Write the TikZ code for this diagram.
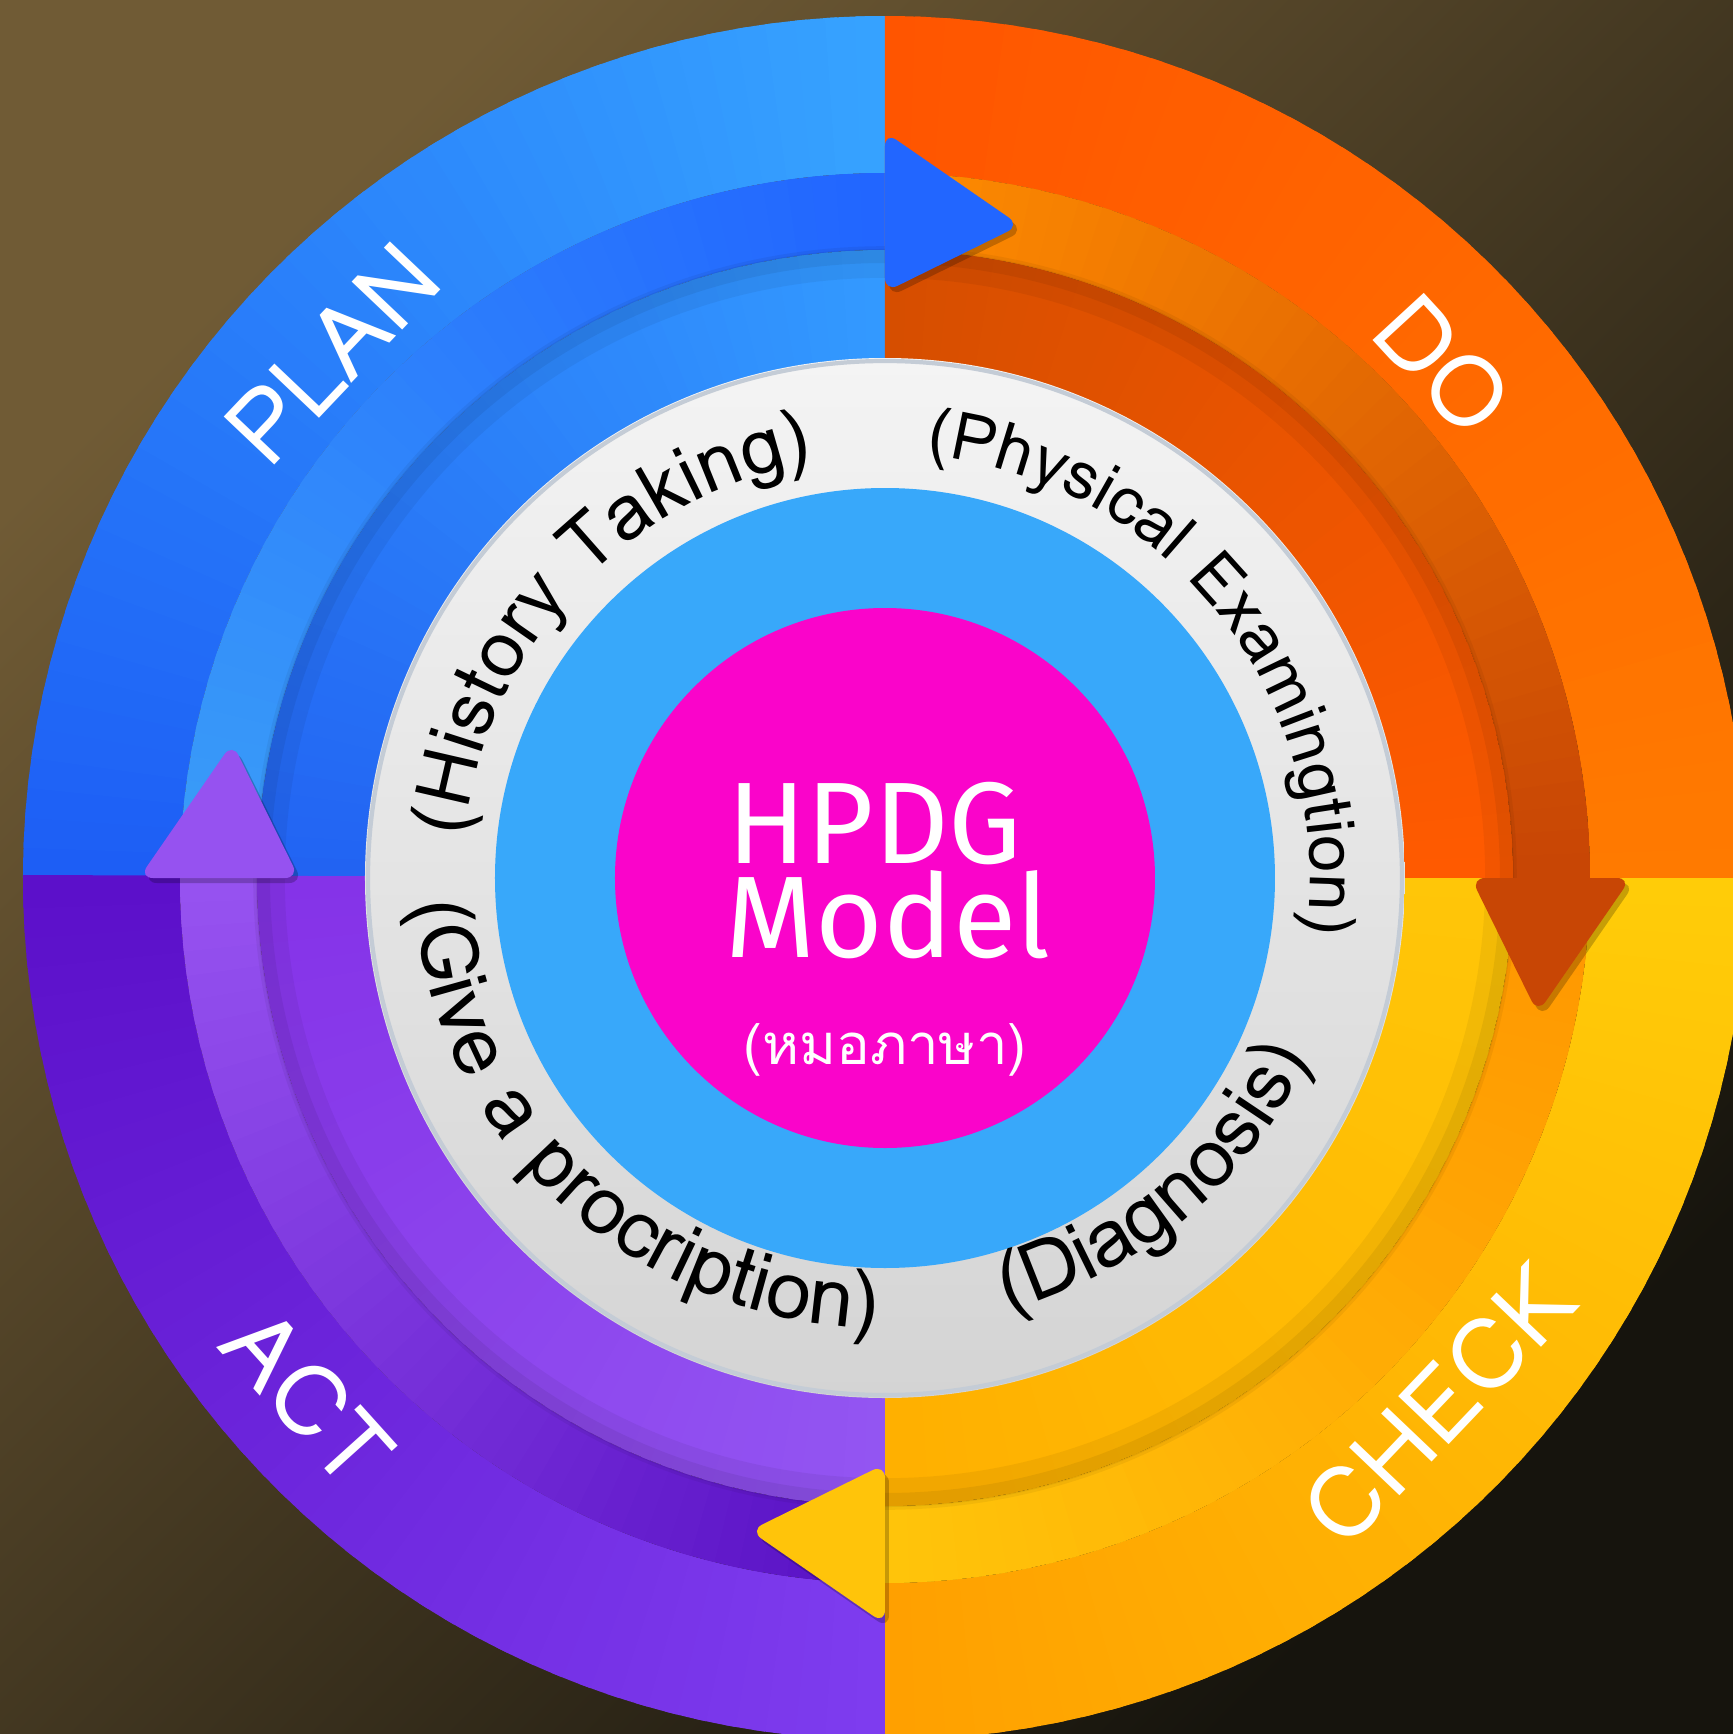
\documentclass[tikz,border=0pt]{standalone}
\usepackage{fontspec}
\usepackage{tikz}
\usetikzlibrary{positioning,decorations.text}
\newfontfamily\labelfont{Loma}
\newfontfamily\centrefont{Fira Sans}
\newfontfamily\thaifont[Script=Thai]{Loma}
\newcommand{\ringfontS}{\labelfont\fontsize{19}{20}\selectfont}
\newcommand{\ringfontM}{\labelfont\fontsize{22}{24}\selectfont}
\newcommand{\ringfontL}{\labelfont\fontsize{23}{25}\selectfont}

\definecolor{bgTop}{HTML}{705B35}
\definecolor{bgBot}{HTML}{16140D}
\definecolor{planOutA}{HTML}{1D5EF5}
\definecolor{planOutB}{HTML}{36A2FF}
\definecolor{planBandA}{HTML}{3A9EF8}
\definecolor{planBandB}{HTML}{2266FF}
\definecolor{planInA}{HTML}{2263F2}
\definecolor{planInB}{HTML}{3399FF}
\definecolor{doOutA}{HTML}{FF5500}
\definecolor{doOutB}{HTML}{FF7A00}
\definecolor{doBandA}{HTML}{FF8C00}
\definecolor{doBandB}{HTML}{C84605}
\definecolor{doInA}{HTML}{D64E00}
\definecolor{doInB}{HTML}{FF5A00}
\definecolor{checkOutA}{HTML}{FFCC08}
\definecolor{checkOutB}{HTML}{FFA000}
\definecolor{checkBandA}{HTML}{FF9500}
\definecolor{checkBandB}{HTML}{FFC40A}
\definecolor{checkInA}{HTML}{FFC608}
\definecolor{checkInB}{HTML}{FFB000}
\definecolor{actOutA}{HTML}{7E3CEF}
\definecolor{actOutB}{HTML}{5C10CA}
\definecolor{actBandA}{HTML}{5810C4}
\definecolor{actBandB}{HTML}{9652F0}
\definecolor{actInA}{HTML}{9355F2}
\definecolor{actInB}{HTML}{8533E8}
\definecolor{ringTop}{HTML}{F4F4F4}
\definecolor{ringBot}{HTML}{D4D4D4}
\definecolor{ringEdge}{HTML}{C4CCD6}
\definecolor{discBlue}{HTML}{38A8FA}
\definecolor{discPink}{HTML}{FA04CA}

% annular sector with a colour running from #5 (at #1) to #6 (at #2)
\newcommand{\gradarc}[6]{%
  \foreach \k in {0,...,44}{%
    \pgfmathsetmacro{\angA}{(#1)+((#2)-(#1))*\k/45}%
    \pgfmathsetmacro{\angB}{(#1)+((#2)-(#1))*min(\k+1.4,45.1)/45}%
    \pgfmathtruncatemacro{\mixp}{100-100*\k/44}%
    \fill[#5!\mixp!#6] (\angA:#3) arc[start angle=\angA, end angle=\angB, radius=#3]
      -- (\angB:#4) arc[start angle=\angB, end angle=\angA, radius=#4] -- cycle;
  }}

\tikzset{
    quad-label/.style = {text=white, font=\labelfont\fontsize{28}{30}\selectfont, inner sep=0pt},
    centre-label/.style = {text=white, font=\centrefont\fontsize{33}{36}\selectfont, inner sep=0pt, anchor=base},
    arrow-tip/.style = {rounded corners=4pt, preaction={fill=black, opacity=0.22, transform canvas={shift={(0.04,-0.05)}}}},
    ring-text/.style = {decorate, decoration={text along path, text align=center, text={#1}}},
}

\begin{document}
\begin{tikzpicture}
\clip (-8.85,-8.56) rectangle (8.48,8.78);
\shade[top color=bgTop, bottom color=bgBot, shading angle=45] (-8.85,-8.56) rectangle (8.48,8.78);

% PLAN
\gradarc{180}{90}{7.05}{8.62}{planOutA}{planOutB}
\gradarc{180}{90}{6.28}{7.05}{planBandA}{planBandB}
\gradarc{180}{90}{5.10}{6.28}{planInA}{planInB}
% DO
\gradarc{90}{0}{7.05}{8.62}{doOutA}{doOutB}
\gradarc{90}{0}{6.28}{7.05}{doBandA}{doBandB}
\gradarc{90}{0}{5.10}{6.28}{doInA}{doInB}
% CHECK
\gradarc{0}{-90}{7.05}{8.62}{checkOutA}{checkOutB}
\gradarc{0}{-90}{6.28}{7.05}{checkBandA}{checkBandB}
\gradarc{0}{-90}{5.10}{6.28}{checkInA}{checkInB}
% ACT
\gradarc{-90}{-180}{7.05}{8.62}{actOutA}{actOutB}
\gradarc{-90}{-180}{6.28}{7.05}{actBandA}{actBandB}
\gradarc{-90}{-180}{5.10}{6.28}{actInA}{actInB}

% soft shade under the bands
\draw[black, opacity=0.05, line width=9pt] (0,0) circle[radius=6.16];
\draw[black, opacity=0.06, line width=4pt] (0,0) circle[radius=6.22];

% centre discs
\shade[top color=ringTop, bottom color=ringBot] (0,0) circle[radius=5.2];
\draw[ringEdge, line width=1.2pt] (0,0) circle[radius=5.17];
\fill[discBlue] (0,0) circle[radius=3.9];
\fill[discPink] (0,0) circle[radius=2.7];

% arrow heads
\fill[arrow-tip, planBandB] (90:5.86) -- (78.3:6.665) -- (90:7.46) -- cycle;
\fill[arrow-tip, doBandB] (0:5.86) -- (-11.7:6.665) -- (0:7.46) -- cycle;
\fill[arrow-tip, checkBandB] (-90:5.86) -- (-101.7:6.665) -- (-90:7.46) -- cycle;
\fill[arrow-tip, actBandB] (180:5.86) -- (168.3:6.665) -- (180:7.46) -- cycle;

% quadrant labels
\node[quad-label, rotate=46.5] (plan) at (136.5:7.62) {PLAN};
\node[quad-label, rotate=-47.4] (do) at (42.6:7.58) {DO};
\node[quad-label, rotate=46.4] (check) at (-43.6:7.64) {CHECK};
\node[quad-label, rotate=-48] (act) at (222:7.76) {ACT};

% texts on the grey ring
\path[ring-text={|\ringfontM|(History Taking)}] (207:4.22) arc[start angle=207, end angle=67, radius=4.22];
\path[ring-text={|\ringfontS|(Physical Examingtion)}] (108.5:4.25) arc[start angle=108.5, end angle=-31.5, radius=4.25];
\path[ring-text={|\ringfontL|(Give a procription)}] (155.6:4.70 and 4.50) arc[start angle=155.6, end angle=295.6, x radius=4.70, y radius=4.50];
\path[ring-text={|\ringfontL|(Diagnosis)}] (-118.5:4.62 and 4.48) arc[start angle=-118.5, end angle=21.5, x radius=4.62, y radius=4.48];

% centre
\node[centre-label] (hpdg) at (-0.1,0.15) {HPDG};
\node[centre-label] (model) at (0.03,-0.79) {Model};
\node[centre-label, font=\thaifont\fontsize{16}{18}\selectfont] (thai) at (0,-1.86) {(หมอภาษา)};
\end{tikzpicture}
\end{document}
